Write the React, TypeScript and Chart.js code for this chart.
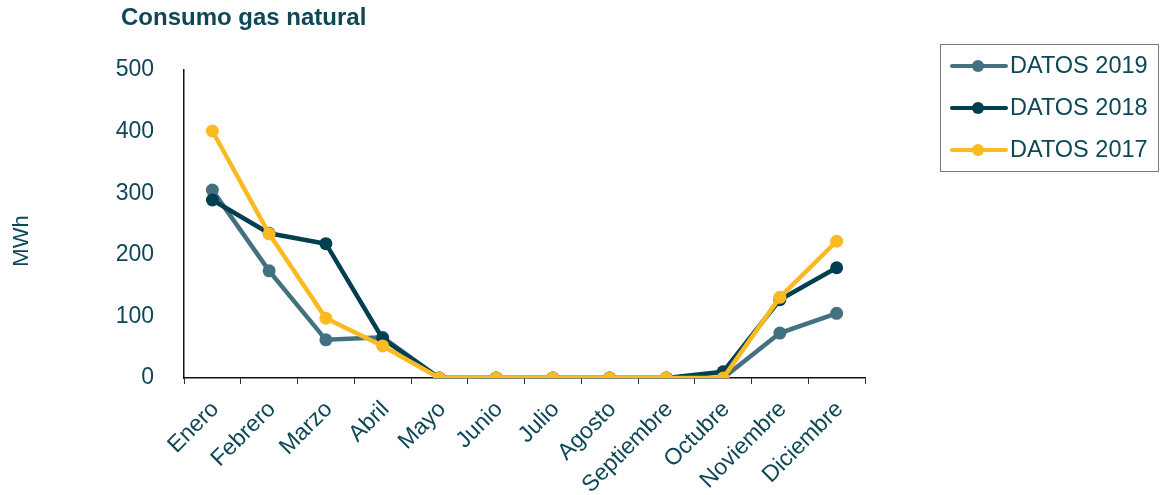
import React, { useEffect, useRef } from "react";
import { Chart, registerables } from "chart.js";

Chart.register(...registerables);

const categories = ["Enero", "Febrero", "Marzo", "Abril", "Mayo", "Junio", "Julio", "Agosto", "Septiembre", "Octubre", "Noviembre", "Diciembre"];
const seriesNames = ["DATOS 2019", "DATOS 2018", "DATOS 2017"];
const values2019 = [305, 174, 62, 66, 0, 0, 0, 0, 0, 0, 73, 105];
const values2018 = [289, 235, 218, 64, 0, 0, 0, 0, 0, 10, 127, 179];
const values2017 = [401, 234, 97, 52, 0, 0, 0, 0, 0, 0, 131, 222];
const yTicks = [0, 100, 200, 300, 400, 500];
const titleText = "Consumo gas natural";
const yTitle = "MWh";

const colors = ["#43717F", "#003F50", "#FBBA22"];
const textColor = "#0E4857";
const FONT = "'Liberation Sans', Arial, sans-serif";

const overlayPlugin = {
  id: "overlay",
  afterDraw(chart: any) {
    const ctx = chart.ctx;
    ctx.save();
    // title
    ctx.fillStyle = textColor;
    ctx.font = `bold 24px ${FONT}`;
    ctx.textAlign = "left";
    ctx.textBaseline = "alphabetic";
    ctx.fillText(titleText, 121, 25);
    // y axis title
    ctx.save();
    ctx.translate(22, 241);
    ctx.rotate(-Math.PI / 2);
    ctx.font = `22px ${FONT}`;
    ctx.textAlign = "center";
    ctx.textBaseline = "middle";
    ctx.fillText(yTitle, 0, 0);
    ctx.restore();
    // legend box
    ctx.strokeStyle = "#7a7a7a";
    ctx.lineWidth = 1;
    ctx.strokeRect(940.5, 44.5, 218, 127);
    const ys = [66, 108, 150];
    chart.data.datasets.forEach((ds: any, i: number) => {
      const y = ys[i];
      ctx.strokeStyle = ds.borderColor;
      ctx.lineWidth = 4;
      ctx.lineCap = "round";
      ctx.beginPath();
      ctx.moveTo(952, y);
      ctx.lineTo(1006, y);
      ctx.stroke();
      ctx.fillStyle = ds.borderColor;
      ctx.beginPath();
      ctx.arc(978, y, 6, 0, Math.PI * 2);
      ctx.fill();
      ctx.fillStyle = textColor;
      ctx.font = `23.5px ${FONT}`;
      ctx.textAlign = "left";
      ctx.textBaseline = "middle";
      ctx.fillText(ds.label, 1010, y + 1);
    });
    ctx.restore();
  },
};

export default function App() {
  const ref = useRef<HTMLCanvasElement>(null);
  useEffect(() => {
    if (!ref.current) return;
    const all = [values2019, values2018, values2017];
    const chart = new Chart(ref.current, {
      type: "line",
      data: {
        labels: categories,
        datasets: all.map((vals, i) => ({
          label: seriesNames[i],
          data: vals,
          borderColor: colors[i],
          backgroundColor: colors[i],
          borderWidth: 4.5,
          pointRadius: 6.5,
          pointBorderWidth: 0,
          pointBackgroundColor: colors[i],
          tension: 0,
          order: 3 - i,
        })),
      },
      options: {
        animation: false,
        responsive: false,
        layout: { padding: { top: 70, right: 295, left: 0, bottom: 0 } },
        plugins: { legend: { display: false }, tooltip: { enabled: false }, title: { display: false } },
        scales: {
          x: {
            offset: true,
            grid: { display: true, offset: true, drawOnChartArea: false, drawTicks: true, tickLength: 6, color: "#333333" },
            border: { display: true, color: "#111111", width: 1.5 },
            ticks: { color: textColor, font: { size: 23, family: FONT }, minRotation: 45, maxRotation: 45, autoSkip: false, padding: 12, labelOffset: 3 },
            afterFit: (s: any) => { s.height = 117; },
          },
          y: {
            min: 0,
            max: 500,
            afterBuildTicks: (s: any) => { s.ticks = yTicks.map((v) => ({ value: v })); },
            grid: { display: false },
            border: { display: true, color: "#111111", width: 1.5 },
            ticks: { color: textColor, font: { size: 23, family: FONT }, padding: 22 },
            afterFit: (s: any) => { s.width = 184; },
          },
        },
      },
      plugins: [overlayPlugin],
    });
    return () => chart.destroy();
  }, []);
  return (
    <div style={{ position: "fixed", left: 0, top: 0, width: 1160, height: 495, background: "#fff" }}>
      <canvas ref={ref} width={1160} height={495} style={{ display: "block" }} />
    </div>
  );
}
